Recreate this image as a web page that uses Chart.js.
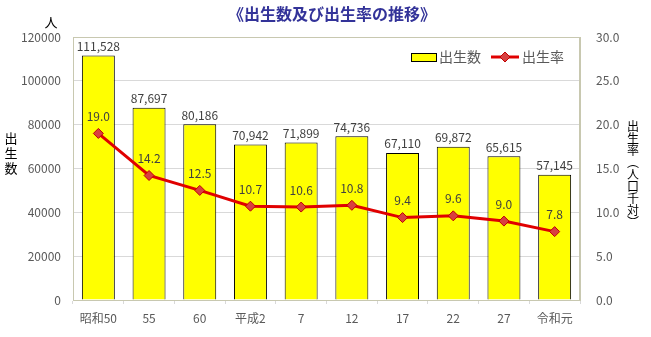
<!DOCTYPE html>
<html>
<head>
<meta charset="utf-8">
<script src="https://cdn.jsdelivr.net/npm/chart.js@4"></script>
<style>
  html, body { margin: 0; padding: 0; background: #fff; }
  #wrap { width: 651px; height: 337px; }
</style>
</head>
<body>
<div id="wrap"><canvas id="chart" width="651" height="337"></canvas></div>
<script>
// ==========================================
// DATA
// ==========================================
const years = ['昭和50', '55', '60', '平成2', '7', '12', '17', '22', '27', '令和元'];

// births (persons)
const births = [111528, 87697, 80186, 70942, 71899, 74736, 67110, 69872, 65615, 57145];

// birth rate (per 1,000 population)
const birthRate = [19.0, 14.2, 12.5, 10.7, 10.6, 10.8, 9.4, 9.6, 9.0, 7.8];

const FONT = '"Noto Sans CJK JP", "Noto Sans", sans-serif';
const frameColor = '#c8c8b0';
const textGray = '#595959';

// ==========================================
// extra drawing: title, stacked axis titles, legend, value labels
// ==========================================
const decorPlugin = {
    id: 'decor',
    afterDraw(chart) {
        const ctx = chart.ctx;
        const area = chart.chartArea;
        ctx.save();

        // plot frame
        ctx.strokeStyle = frameColor;
        ctx.lineWidth = 1;
        ctx.strokeRect(area.left + 0.5, area.top + 0.5, area.right - area.left - 1, area.bottom - area.top);

        // title
        ctx.fillStyle = '#333399';
        ctx.font = 'bold 16px ' + FONT;
        ctx.textAlign = 'left';
        ctx.textBaseline = 'middle';
        ctx.fillText('《出生数及び出生率の推移》', 228, 14);

        // unit & axis titles
        ctx.textAlign = 'center';
        ctx.fillStyle = '#000';
        ctx.font = '13px ' + FONT;
        ctx.fillText('人', 51, 22);
        ['出', '生', '数'].forEach((c, i) => ctx.fillText(c, 11, 138 + i * 15));
        ctx.font = '12px ' + FONT;
        const right = ['出', '生', '率', '︵', '人', '口', '千', '対', '︶'];
        right.forEach((c, i) => ctx.fillText(c, 633, 126 + i * 12));

        // legend
        ctx.fillStyle = '#ffff00';
        ctx.fillRect(411.5, 53.5, 25, 8);
        ctx.strokeStyle = '#000';
        ctx.strokeRect(411.5, 53.5, 25, 8);
        ctx.font = '14px ' + FONT;
        ctx.fillStyle = textGray;
        ctx.textAlign = 'left';
        ctx.fillText('出生数', 439, 57);
        ctx.strokeStyle = '#e00000';
        ctx.lineWidth = 3;
        ctx.beginPath();
        ctx.moveTo(491, 57);
        ctx.lineTo(519, 57);
        ctx.stroke();
        ctx.fillStyle = '#d84040';
        ctx.strokeStyle = '#c00000';
        ctx.lineWidth = 1;
        ctx.beginPath();
        ctx.moveTo(505, 52); ctx.lineTo(510, 57); ctx.lineTo(505, 62); ctx.lineTo(500, 57);
        ctx.closePath();
        ctx.fill();
        ctx.stroke();
        ctx.fillStyle = textGray;
        ctx.fillText('出生率', 522, 57);

        // value labels
        ctx.fillStyle = '#404040';
        ctx.font = '12px ' + FONT;
        ctx.textAlign = 'center';
        ctx.textBaseline = 'bottom';
        chart.getDatasetMeta(1).data.forEach((bar, i) => {
            ctx.fillText(births[i].toLocaleString('en-US'), bar.x, bar.y - 3);
        });
        ctx.textBaseline = 'middle';
        chart.getDatasetMeta(0).data.forEach((pt, i) => {
            ctx.fillText(birthRate[i].toFixed(1), pt.x, pt.y - 17);
        });
        ctx.restore();
    }
};

new Chart(document.getElementById('chart'), {
    data: {
        labels: years,
        datasets: [
            {
                type: 'line',
                label: '出生率',
                data: birthRate,
                yAxisID: 'y1',
                borderColor: '#e00000',
                borderWidth: 3,
                pointStyle: 'rectRot',
                pointRadius: 5,
                pointBackgroundColor: '#d84040',
                pointBorderColor: '#c00000',
                pointBorderWidth: 1,
                order: 0
            },
            {
                type: 'bar',
                label: '出生数',
                data: births,
                yAxisID: 'y',
                backgroundColor: '#ffff00',
                borderColor: '#000',
                borderWidth: 1,
                barPercentage: 0.65,
                categoryPercentage: 1,
                order: 1
            }
        ]
    },
    options: {
        responsive: false,
        animation: false,
        layout: { padding: { top: 37, right: 0, bottom: 0, left: 0 } },
        plugins: {
            legend: { display: false },
            tooltip: { enabled: false }
        },
        scales: {
            x: {
                offset: true,
                grid: { display: true, drawOnChartArea: false, offset: true, tickLength: 4, color: '#d9d9d9' },
                border: { color: frameColor },
                ticks: { color: textGray, font: { family: FONT, size: 12 }, padding: 7 },
                afterFit: s => { s.height = 37; }
            },
            y: {
                position: 'left',
                min: 0,
                max: 120000,
                ticks: {
                    stepSize: 20000,
                    color: textGray,
                    font: { family: FONT, size: 12 },
                    padding: 12,
                    callback: v => String(v)
                },
                grid: { color: '#d9d9d9', drawTicks: false },
                border: { color: frameColor },
                afterFit: s => { s.width = 73; }
            },
            y1: {
                position: 'right',
                min: 0,
                max: 30,
                ticks: {
                    stepSize: 5,
                    color: textGray,
                    font: { family: FONT, size: 12 },
                    padding: 16,
                    callback: v => v.toFixed(1)
                },
                grid: { drawOnChartArea: false, drawTicks: false },
                border: { color: frameColor },
                afterFit: s => { s.width = 71; }
            }
        }
    },
    plugins: [decorPlugin]
});
</script>
</body>
</html>
